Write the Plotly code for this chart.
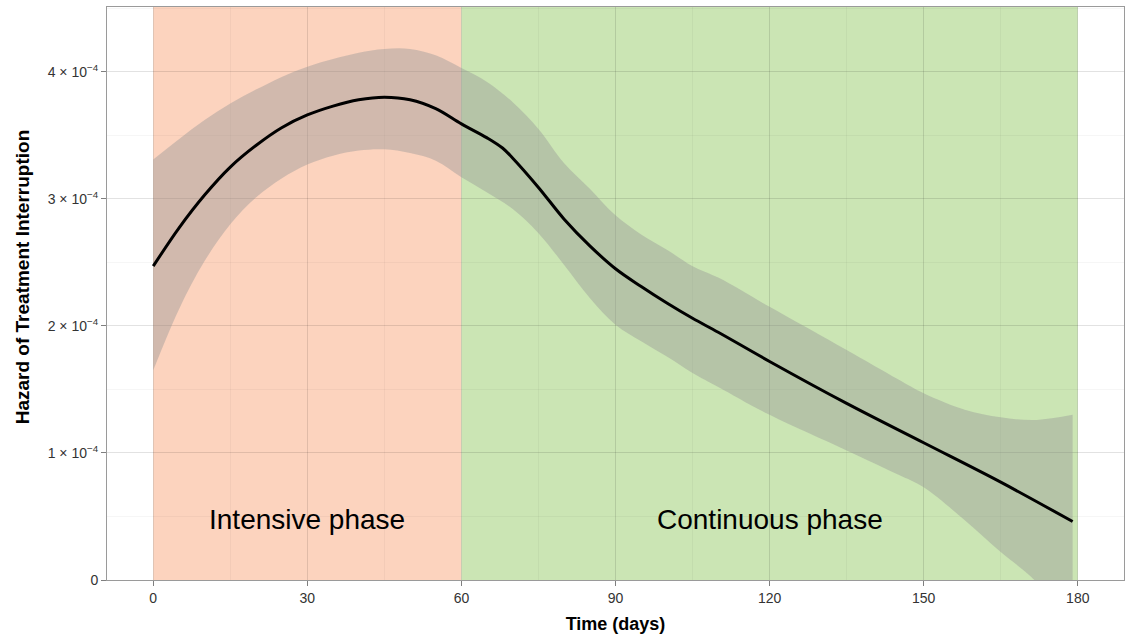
import plotly.graph_objects as go

# ---- data (hazard in units of 1e-4) ----
days_mean = [0, 5, 10, 15, 20, 25, 30, 35, 40, 45, 50, 55, 60, 65, 68, 70, 75, 80, 85, 90, 95,
             100, 105, 110, 120, 135, 150, 165, 179]
mean_e4 = [2.47, 2.77, 3.03, 3.25, 3.42, 3.56, 3.66, 3.73, 3.78, 3.80, 3.78, 3.71, 3.59, 3.48,
           3.40, 3.32, 3.09, 2.84, 2.63, 2.45, 2.31, 2.18, 2.06, 1.95, 1.72, 1.39, 1.08, 0.77, 0.46]

days_band = [0, 5, 10, 15, 20, 25, 30, 35, 40, 45, 50, 55, 60, 65, 70, 75, 80, 85, 90, 95,
             100, 105, 110, 120, 135, 145, 150, 158, 165, 172, 179]
upper_e4 = [3.31, 3.47, 3.62, 3.75, 3.86, 3.96, 4.04, 4.10, 4.15, 4.18, 4.18, 4.13, 4.03, 3.92,
            3.76, 3.55, 3.28, 3.08, 2.87, 2.72, 2.60, 2.47, 2.38, 2.15, 1.81, 1.58, 1.47, 1.34,
            1.28, 1.26, 1.30]
lower_e4 = [1.65, 2.13, 2.51, 2.80, 3.01, 3.16, 3.27, 3.34, 3.38, 3.39, 3.36, 3.30, 3.17, 3.05,
            2.92, 2.73, 2.48, 2.22, 2.01, 1.88, 1.76, 1.63, 1.52, 1.30, 1.02, 0.83, 0.73, 0.47,
            0.22, -0.02, -0.45]

phase_names = ["Intensive phase", "Continuous phase"]
phase_start = [0, 60]
phase_end = [60, 180]
phase_colors = ["#FCD3BE", "#CBE5B4"]

x_ticks = [0, 30, 60, 90, 120, 150, 180]
y_ticks = [0, 1e-4, 2e-4, 3e-4, 4e-4]
y_ticktext = ["0", "1 × 10<sup>−4</sup>", "2 × 10<sup>−4</sup>", "3 × 10<sup>−4</sup>",
              "4 × 10<sup>−4</sup>"]

scale = 1e-4
mean = [v * scale for v in mean_e4]
upper = [v * scale for v in upper_e4]
lower = [v * scale for v in lower_e4]

FONT = "Liberation Sans, Arial, Helvetica, sans-serif"

fig = go.Figure()

fig.add_trace(go.Scatter(x=days_band, y=upper, mode="lines", line=dict(width=0, shape="spline"),
                         showlegend=False, hoverinfo="skip"))
fig.add_trace(go.Scatter(x=days_band, y=lower, mode="lines", line=dict(width=0, shape="spline"),
                         fill="tonexty", fillcolor="rgba(150,150,150,0.42)",
                         showlegend=False, hoverinfo="skip"))
fig.add_trace(go.Scatter(x=days_mean, y=mean, mode="lines",
                         line=dict(color="black", width=3, shape="spline"),
                         showlegend=False))

for name, s, e, c in zip(phase_names, phase_start, phase_end, phase_colors):
    fig.add_shape(type="rect", xref="x", yref="paper", x0=s, x1=e, y0=0, y1=1,
                  fillcolor=c, line=dict(width=0), layer="below")
    fig.add_annotation(x=(s + e) / 2, y=0.48e-4, text=name, showarrow=False,
                       font=dict(family=FONT, size=28, color="black"))

# y-axis title (as rotated annotation to match its placement)
fig.add_annotation(xref="paper", yref="paper", x=-0.0836, y=0.53, textangle=-90,
                   text="<b>Hazard of Treatment Interruption</b>", showarrow=False,
                   xanchor="center", yanchor="middle",
                   font=dict(family=FONT, size=19, color="black"))

GRID = "rgba(0,0,0,0.08)"
MINOR = "rgba(0,0,0,0.035)"

fig.update_layout(
    width=1131, height=638,
    margin=dict(l=107, r=7, t=7, b=58),
    paper_bgcolor="white", plot_bgcolor="white",
    font=dict(family=FONT),
    xaxis=dict(
        range=[-9, 189], tickvals=x_ticks, ticks="outside", ticklen=5, tickcolor="#7f7f7f",
        showgrid=True, gridcolor=GRID, gridwidth=1,
        minor=dict(dtick=15, tick0=0, showgrid=True, gridcolor=MINOR, gridwidth=1),
        showline=True, linecolor="#9a9a9a", linewidth=1, mirror=True, zeroline=False,
        tickfont=dict(family=FONT, size=14, color="#333333"),
        title=dict(text="<b>Time (days)</b>", font=dict(family=FONT, size=18, color="black"),
                   standoff=12),
        automargin=False,
    ),
    yaxis=dict(
        range=[0, 4.51e-4], tickvals=y_ticks, ticktext=y_ticktext, ticks="outside", ticklen=5,
        tickcolor="#7f7f7f",
        showgrid=True, gridcolor=GRID, gridwidth=1,
        minor=dict(dtick=0.5e-4, tick0=0, showgrid=True, gridcolor=MINOR, gridwidth=1),
        showline=True, linecolor="#9a9a9a", linewidth=1, mirror=True, zeroline=False,
        tickfont=dict(family=FONT, size=14, color="#333333"),
        automargin=False,
    ),
)

fig.write_html("out.html")
